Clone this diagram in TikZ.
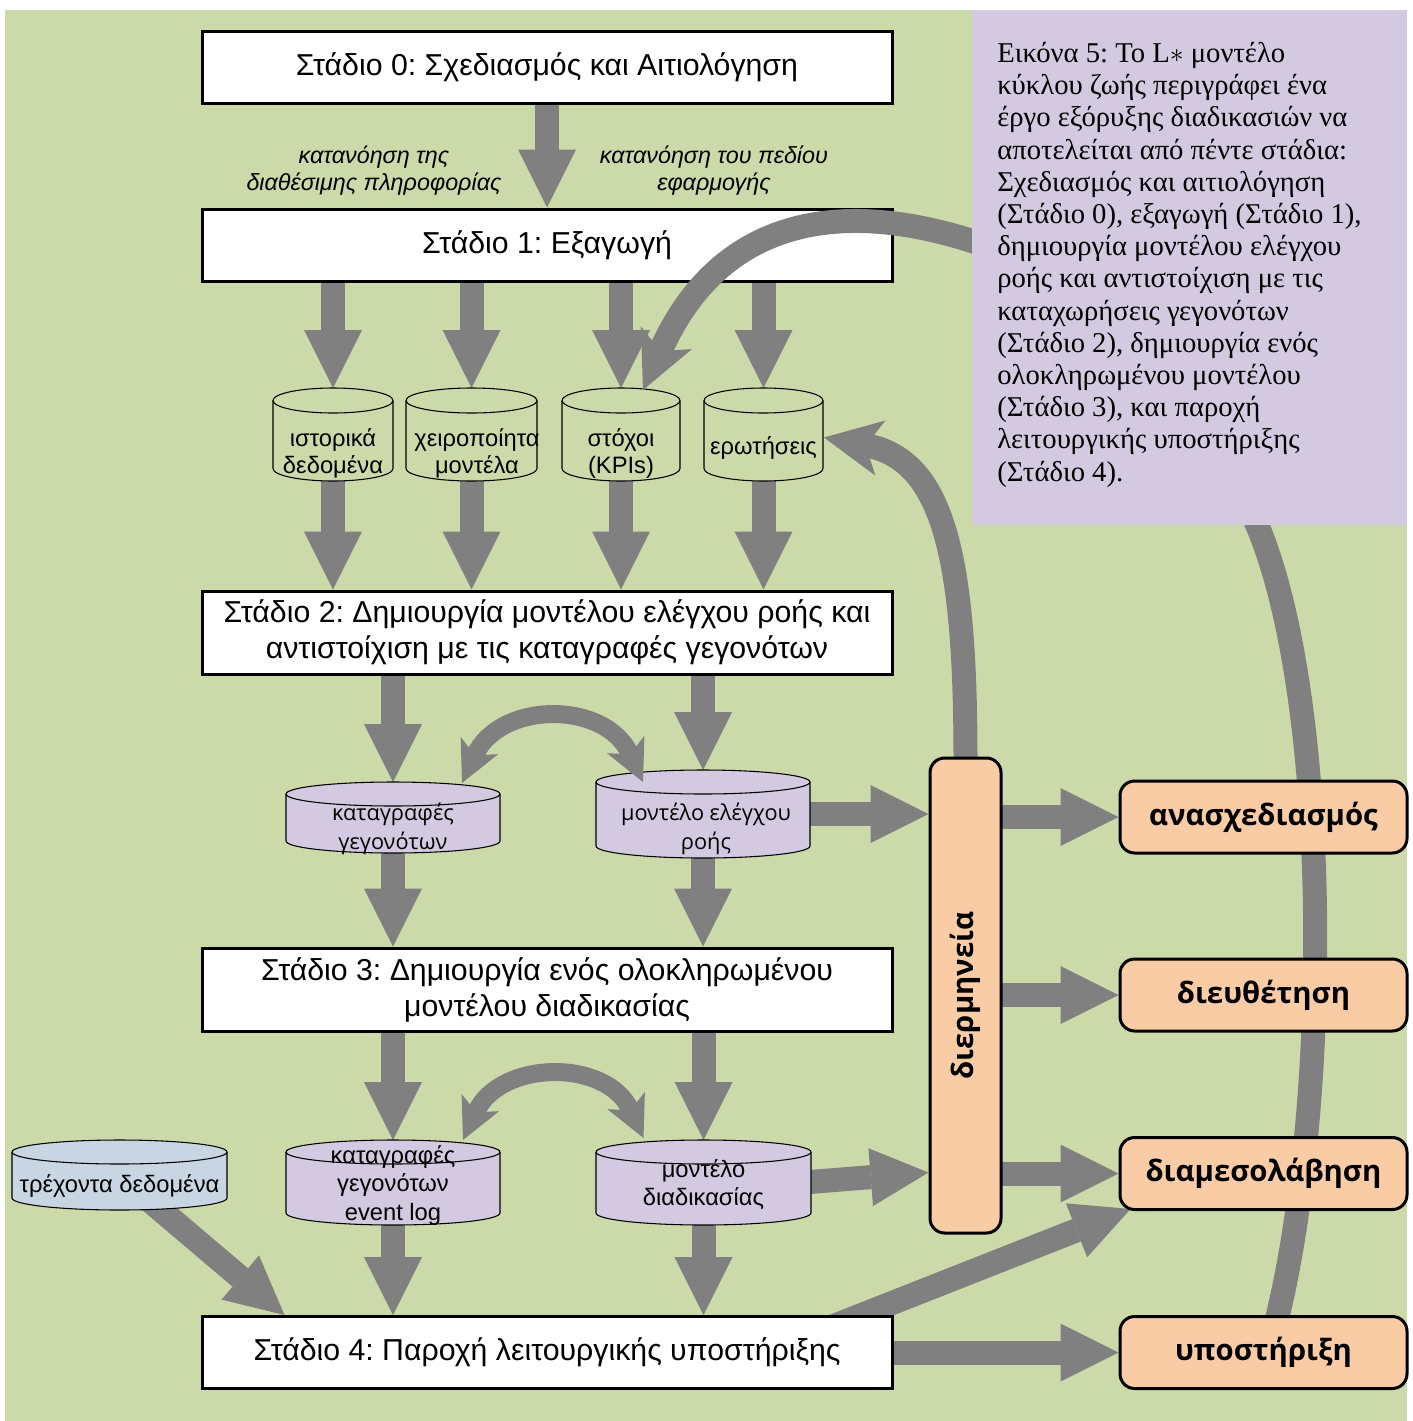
\documentclass[tikz,border=0pt]{standalone}
\usepackage{fontspec}
\setmainfont{Liberation Sans}
\newfontfamily\capfont{Liberation Serif}
\newfontfamily\osfont{Open Sans}
\usetikzlibrary{arrows.meta,calc}
\pgfdeclarelayer{bg}
\pgfdeclarelayer{arr}
\pgfdeclarelayer{curve}
\pgfdeclarelayer{front}
\pgfsetlayers{bg,arr,main,curve,front}
\definecolor{bggreen}{RGB}{204,218,170}
\definecolor{capurple}{RGB}{211,201,224}
\definecolor{orangebox}{RGB}{250,204,166}
\definecolor{cylblue}{RGB}{200,214,228}
\definecolor{arrowgray}{RGB}{128,128,128}
\frenchspacing
\newcommand{\mycyl}[7]{%
  \pgfmathsetmacro{\cylxa}{#2-#4/2}%
  \pgfmathsetmacro{\cylxb}{#2+#4/2}%
  \pgfmathsetmacro{\cylya}{#3-#5/2+#7}%
  \pgfmathsetmacro{\cylyb}{#3+#5/2-#7}%
  \pgfmathsetmacro{\cylkx}{0.5523*#4/2}%
  \pgfmathsetmacro{\cylky}{0.5523*#7}%
  \node[minimum width={#4*0.75pt}, minimum height={#5*0.75pt}, inner sep=0pt, outer sep=0pt] (#1) at (#2,#3) {};
  \filldraw[fill=#6, draw=black, line width=0.8pt] (\cylxa,\cylya) -- (\cylxa,\cylyb)
     .. controls (\cylxa,\cylyb+\cylky) and (#2-\cylkx,\cylyb+#7) .. (#2,\cylyb+#7)
     .. controls (#2+\cylkx,\cylyb+#7) and (\cylxb,\cylyb+\cylky) .. (\cylxb,\cylyb)
     -- (\cylxb,\cylya)
     .. controls (\cylxb,\cylya-\cylky) and (#2+\cylkx,\cylya-#7) .. (#2,\cylya-#7)
     .. controls (#2-\cylkx,\cylya-#7) and (\cylxa,\cylya-\cylky) .. cycle;
  \draw[line width=0.8pt] (\cylxa,\cylya) .. controls (\cylxa,\cylya+\cylky) and (#2-\cylkx,\cylya+#7) .. (#2,\cylya+#7)
     .. controls (#2+\cylkx,\cylya+#7) and (\cylxb,\cylya+\cylky) .. (\cylxb,\cylya);
}
\begin{document}
\begin{tikzpicture}[x=0.75pt,y=-0.75pt,
  stagebox/.style={draw=black, line width=2.25pt, fill=white, minimum width=517.5pt, inner sep=0pt, align=center, font={\fontsize{22.7}{27}\selectfont}},
  cyltext/.style={align=center, inner sep=0pt, font={\fontsize{17.8}{20.3}\selectfont}},
  cylos/.style={align=center, inner sep=0pt, font={\osfont\fontsize{16.3}{21.5}\selectfont}},
  ilabel/.style={align=center, inner sep=0pt, font={\itshape\fontsize{17.5}{20.5}\selectfont}},
  obox/.style={draw=black, line width=2.25pt, fill=orangebox, rounded corners=11pt, minimum width=215.25pt, minimum height=54pt, inner sep=0pt, font={\osfont\bfseries\fontsize{22}{25}\selectfont}},
  bigarrow/.style={draw=arrowgray, line width=18pt, -{Triangle[width=43.5pt,length=43.5pt,line width=0pt]}},
  dblcurve/.style={draw=arrowgray, line width=13.5pt, {Stealth[width=31pt,length=31pt,inset=8pt,line width=0pt]}-{Stealth[width=31pt,length=31pt,inset=8pt,line width=0pt]}},
  bigcurve/.style={draw=arrowgray, line width=18pt, -{Stealth[width=42pt,length=43pt,inset=11pt,line width=0pt]}},
  captext/.style={align=left, inner sep=0pt, font={\capfont\fontsize{21.5}{24.15}\selectfont}}
]
\useasboundingbox (0,0) rectangle (1413,1421);
\begin{pgfonlayer}{bg}
  \fill[bggreen] (5,10) rectangle (1407,1421);
\end{pgfonlayer}

% stage boxes
\node[stagebox, minimum height=54pt] (S0) at (547,67) {Στάδιο 0: Σχεδιασμός και Αιτιολόγηση};
\node[stagebox, minimum height=54pt] (S1) at (547,245) {Στάδιο 1: Εξαγωγή};
\node[stagebox, minimum height=62.25pt] (S2) at (547,632.5) {Στάδιο 2: Δημιουργία μοντέλου ελέγχου ροής και\\αντιστοίχιση με τις καταγραφές γεγονότων};
\node[stagebox, minimum height=62.25pt] (S3) at (547,989.5) {Στάδιο 3: Δημιουργία ενός ολοκληρωμένου\\μοντέλου διαδικασίας};
\node[stagebox, minimum height=54pt] (S4) at (547,1352.5) {Στάδιο 4: Παροχή λειτουργικής υποστήριξης};

\node[ilabel] (l1) at (374,170.5) {κατανόηση της\\διαθέσιμης πληροφορίας};
\node[ilabel] (l2) at (714,170.5) {κατανόηση του πεδίου\\εφαρμογής};

% cylinders
\mycyl{c1}{333}{434.5}{120}{93}{bggreen}{12.5}
\mycyl{c2}{471.5}{434.5}{131}{93}{bggreen}{12.5}
\mycyl{c3}{621}{434.5}{118}{93}{bggreen}{12.5}
\mycyl{c4}{763.5}{434.5}{119}{93}{bggreen}{12.5}
\node[cyltext] (c1t) at (333,453.5) {ιστορικά\\δεδομένα};
\node[cyltext] (c2t) at (477,453.5) {χειροποίητα\\μοντέλα};
\node[cyltext] (c3t) at (621,453.5) {στόχοι\\(KPIs)};
\node[cyltext] (c4t) at (763.5,448) {ερωτήσεις};

\mycyl{p1}{393}{817.5}{214}{71}{capurple}{12}
\mycyl{p2}{703}{814}{214}{88}{capurple}{12}
\node[cylos] (p1t) at (393,829) {καταγραφές\\γεγονότων};
\node[cylos] (p2t) at (706,829) {μοντέλο ελέγχου\\ροής};

\mycyl{p3}{393}{1182.5}{214}{85}{capurple}{12}
\mycyl{p4}{703.5}{1182.5}{215}{85}{capurple}{12}
\mycyl{bc}{119.5}{1175}{215}{70}{cylblue}{12}
\node[cyltext, font={\fontsize{17.8}{21.4}\selectfont}] (p3t) at (393,1185.5) {καταγραφές\\γεγονότων\\event log};
\node[cyltext, font={\fontsize{17.8}{21}\selectfont}] (p4t) at (703.5,1185) {μοντέλο\\διαδικασίας};
\node[cyltext] (bct) at (119.5,1186) {τρέχοντα δεδομένα};

% caption and orange boxes
\begin{pgfonlayer}{front}
  \fill[capurple] (972,10) rectangle (1407,525);
  \node[captext, anchor=north west] (cap) at (997,42) {Εικόνα 5: Το L$*$ μοντέλο\\
κύκλου ζωής περιγράφει ένα\\
έργο εξόρυξης διαδικασιών να\\
αποτελείται από πέντε στάδια:\\
Σχεδιασμός και αιτιολόγηση\\
(Στάδιο 0), εξαγωγή (Στάδιο 1),\\
δημιουργία μοντέλου ελέγχου\\
ροής και αντιστοίχιση με τις\\
καταχωρήσεις γεγονότων\\
(Στάδιο 2), δημιουργία ενός\\
ολοκληρωμένου μοντέλου\\
(Στάδιο 3), και παροχή\\
λειτουργικής υποστήριξης\\
(Στάδιο 4).};
  \node[obox, minimum width=53.25pt, minimum height=356.25pt] (dier) at (965.5,995.5) {};
  \node[rotate=90, inner sep=0pt, font={\osfont\bfseries\fontsize{22}{25}\selectfont}] (dierlabel) at (dier.center) {διερμηνεία};
  \node[obox] (anas) at (1263.5,817) {ανασχεδιασμός};
  \node[obox] (diey) at (1263.5,995) {διευθέτηση};
  \node[obox] (dms) at (1263.5,1173.5) {διαμεσολάβηση};
  \node[obox] (ypo) at (1263.5,1352.5) {υποστήριξη};
\end{pgfonlayer}

% straight arrows
\begin{pgfonlayer}{arr}
  \draw[bigarrow] (S0.center) -- (S1.north);
  \foreach \c in {c1,c2,c3,c4} {
    \draw[bigarrow] (\c.north |- S1.center) -- (\c.north);
    \draw[bigarrow] (\c.center) -- (\c.center |- S2.north);
  }
  \draw[bigarrow] (p1.north |- S2.center) -- (p1.north);
  \draw[bigarrow] (p2.north |- S2.center) -- (p2.north);
  \draw[bigarrow] (p1.center) -- (p1.center |- S3.north);
  \draw[bigarrow] (p2.center) -- (p2.center |- S3.north);
  \draw[bigarrow] (p3.north |- S3.center) -- (p3.north);
  \draw[bigarrow] (p4.north |- S3.center) -- (p4.north);
  \draw[bigarrow] (p3.center) -- (p3.center |- S4.north);
  \draw[bigarrow] (p4.center) -- (p4.center |- S4.north);
  \draw[bigarrow] (bc.center) -- ($(S4.north west)+(84,0)$);
  \draw[bigarrow] (S4.center) -- (ypo.west);
  \draw[bigarrow] ($(S4.north east)+(-80,19)$) -- ($(dms.south west)+(12,-2)$);
  \draw[bigarrow] (p2.center) -- (p2.center -| dier.west);
  \draw[bigarrow] ($(p4.east)+(-20,1)$) -- ($(dier.west |- p4.center)+(0,-10)$);
  \draw[bigarrow] (dier.center |- anas.west) -- (anas.west);
  \draw[bigarrow] (dier.center |- diey.west) -- (diey.west);
  \draw[bigarrow] (dier.center |- dms.west) -- (dms.west);
  \draw[bigcurve] ($(dier.north)+(0,12)$) .. controls (966,560) and (945,460) .. ($(c4.east)+(1,3)$);
\end{pgfonlayer}

% curved arrows
\begin{pgfonlayer}{curve}
  \draw[dblcurve] ($(p1.north)+(69,1)$) .. controls +(38,-82) and +(-38,-82) .. ($(p2.north)+(-60,12)$);
  \draw[dblcurve] ($(p3.north)+(70,0)$) .. controls +(37,-80) and +(-37,-80) .. ($(p4.north)+(-60,-2)$);
  \coordinate (k1) at (1258,527);
  \coordinate (k2) at (972,241);
  \draw[bigcurve] ($(ypo.north)+(12,10)$) .. controls (1332,1100) and (1330,700) .. (k1)
     .. controls (1200,390) and (1060,268) .. (k2)
     .. controls (875,210) and (730,195) .. ($(c3.north)+(22,2)$);
\end{pgfonlayer}
\end{tikzpicture}
\end{document}
